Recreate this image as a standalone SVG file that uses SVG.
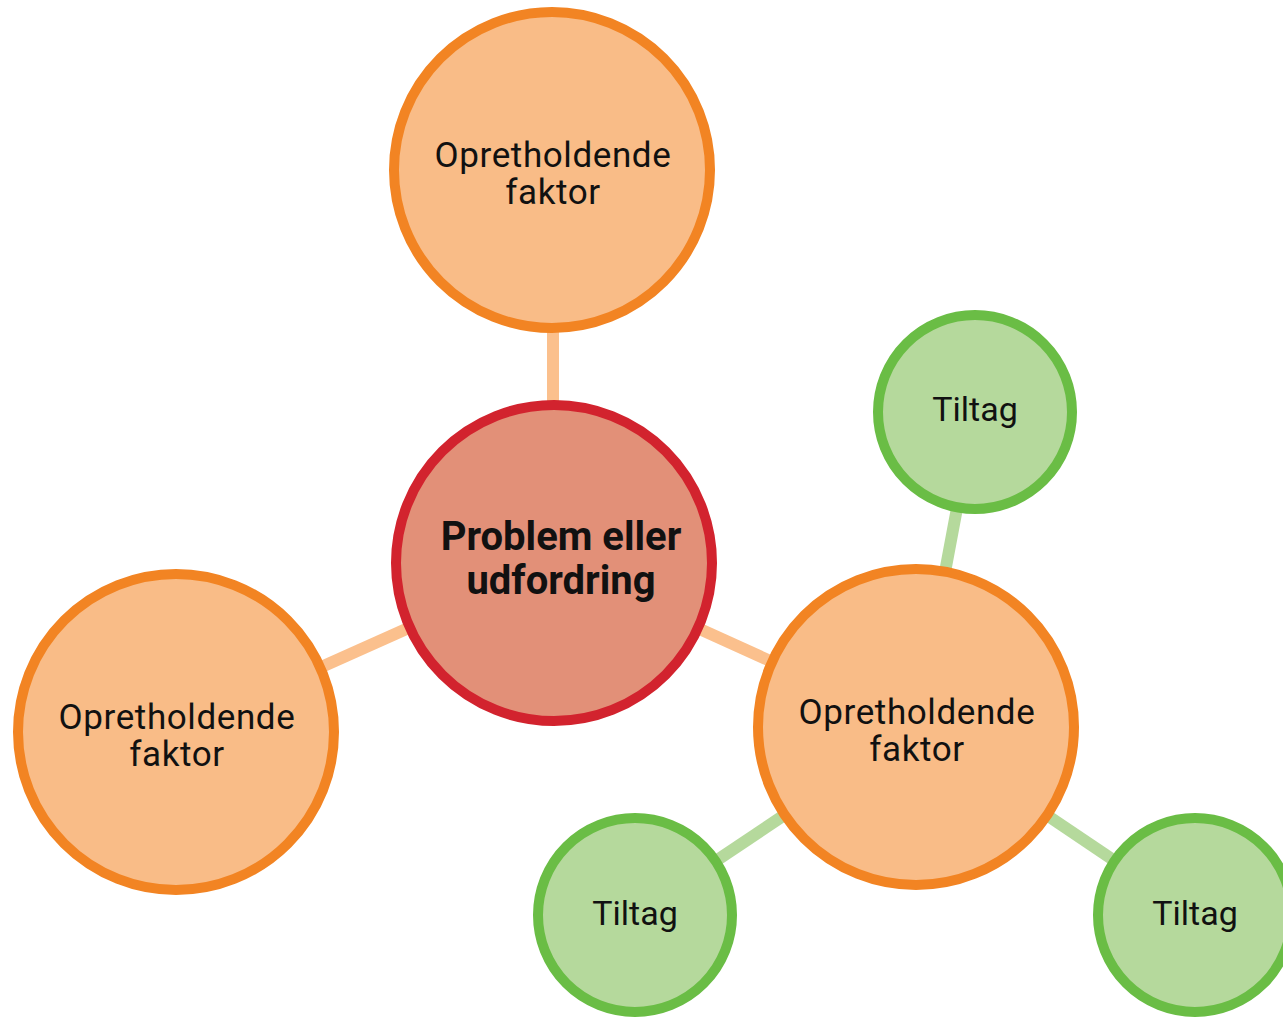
<svg xmlns="http://www.w3.org/2000/svg" width="1283" height="1017" viewBox="0 0 1283 1017">
<style>
.conn-o{stroke:#FBC08D;stroke-width:12;fill:none}
.conn-g{stroke:#B5D99C;stroke-width:12;fill:none}
.factor{fill:#F9BC87;stroke:#F28423;stroke-width:10}
.problem{fill:#E29078;stroke:#D2232E;stroke-width:10}
.tiltag{fill:#B5D99C;stroke:#6ABD45;stroke-width:10}
text{font-family:Roboto,"Liberation Sans",sans-serif;fill:#111;text-anchor:middle}
.f{font-size:35px;letter-spacing:0.6px}
.t{font-size:34px}
.b{font-size:40px;font-weight:bold}
</style>
<rect width="1283" height="1017" fill="#fff"/>
<g id="connectors">
<line class="conn-o" x1="553" y1="170" x2="553" y2="563"/>
<line class="conn-o" x1="554" y1="563" x2="176" y2="732"/>
<line class="conn-o" x1="554" y1="563" x2="916" y2="727"/>
<line class="conn-g" x1="916" y1="727" x2="975" y2="412"/>
<line class="conn-g" x1="916" y1="727" x2="635" y2="915"/>
<line class="conn-g" x1="916" y1="727" x2="1195" y2="915"/>
</g>
<g id="factor-top">
<circle class="factor" cx="552" cy="170" r="158"/>
<text class="f" x="553" y="167">Opretholdende</text>
<text class="f" x="553" y="204">faktor</text>
</g>
<g id="factor-left">
<circle class="factor" cx="176" cy="732" r="158"/>
<text class="f" x="177" y="729">Opretholdende</text>
<text class="f" x="177" y="766">faktor</text>
</g>
<g id="problem">
<circle class="problem" cx="554" cy="563" r="158"/>
<text class="b" x="561" y="550">Problem eller</text>
<text class="b" x="561" y="594">udfordring</text>
</g>
<g id="factor-right">
<circle class="factor" cx="916" cy="727" r="158"/>
<text class="f" x="917" y="724">Opretholdende</text>
<text class="f" x="917" y="761">faktor</text>
</g>
<g id="tiltag-top">
<circle class="tiltag" cx="975" cy="412" r="97"/>
<text class="t" x="975" y="421">Tiltag</text>
</g>
<g id="tiltag-bottom-left">
<circle class="tiltag" cx="635" cy="915" r="97"/>
<text class="t" x="635" y="925">Tiltag</text>
</g>
<g id="tiltag-bottom-right">
<circle class="tiltag" cx="1195" cy="915" r="97"/>
<text class="t" x="1195" y="925">Tiltag</text>
</g>
</svg>
